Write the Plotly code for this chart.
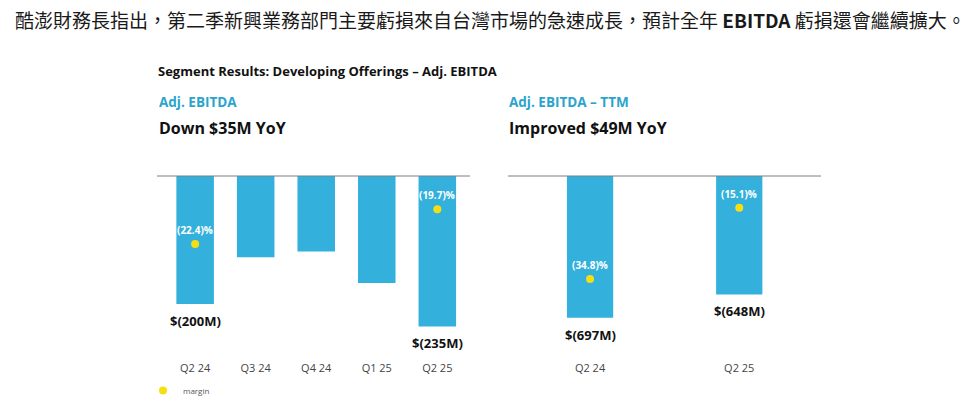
import plotly.graph_objects as go

# ---- data ----
quarters = ["Q2 24", "Q3 24", "Q4 24", "Q1 25", "Q2 25"]
ebitda = [-200, -127, -118, -167, -235]
ebitda_labels = ["$(200M)", "", "", "", "$(235M)"]
margin_q = ["Q2 24", "Q2 25"]
margin_vals = [-22.4, -19.7]
margin_labels = ["(22.4)%", "(19.7)%"]

ttm_periods = ["Q2 24", "Q2 25"]
ttm_ebitda = [-697, -648]
ttm_labels = ["$(697M)", "$(648M)"]
ttm_margin = [-34.8, -15.1]
ttm_margin_labels = ["(34.8)%", "(15.1)%"]

W, H = 980, 411
BAR = "#33b1dc"
DOT = "#f5df12"
TEAL = "#2aa4cc"
FONT = "Open Sans, Noto Sans, sans-serif"

def px(xp):
    return xp / W

def py(yp):
    return 1 - yp / H

top, bot = 176, 360

fig = go.Figure()

fig.add_trace(go.Bar(x=quarters, y=ebitda, marker_color=BAR, marker_line_width=0,
                     xaxis="x", yaxis="y", showlegend=False, hoverinfo="skip"))
fig.add_trace(go.Scatter(x=margin_q, y=margin_vals, mode="markers", name="margin",
                         marker=dict(color=DOT, size=8), xaxis="x", yaxis="y2",
                         showlegend=True, hoverinfo="skip"))
fig.add_trace(go.Bar(x=ttm_periods, y=ttm_ebitda, marker_color=BAR, marker_line_width=0,
                     xaxis="x3", yaxis="y3", showlegend=False, hoverinfo="skip", width=0.31))
fig.add_trace(go.Scatter(x=ttm_periods, y=ttm_margin, mode="markers", name="margin",
                         marker=dict(color=DOT, size=8), xaxis="x3", yaxis="y4",
                         showlegend=False, hoverinfo="skip"))

tickfont = dict(family=FONT, size=11, color="#444")
fig.update_layout(
    width=W, height=H, margin=dict(l=0, r=0, t=0, b=0),
    paper_bgcolor="white", plot_bgcolor="white",
    bargap=0.38,
    xaxis=dict(domain=[px(157), px(470)], range=[-0.63, 4.54], type="category",
               categoryorder="array", categoryarray=quarters,
               showgrid=False, zeroline=False, showline=False, ticks="", tickfont=tickfont),
    yaxis=dict(domain=[py(bot), py(top)], range=[-(bot - top) / 0.64, 0],
               visible=False, showgrid=False, zeroline=False),
    yaxis2=dict(overlaying="y", range=[-(bot + 43.9) / 12.85, -(top + 43.9) / 12.85],
                visible=False, showgrid=False, zeroline=False),
    xaxis3=dict(domain=[px(508), px(821)], range=[-0.55, 1.548], type="category",
                categoryorder="array", categoryarray=ttm_periods,
                showgrid=False, zeroline=False, showline=False, ticks="", tickfont=tickfont,
                anchor="y3"),
    yaxis3=dict(domain=[py(bot), py(top)], range=[-(399 + (bot - top) / 0.4755), -399],
                visible=False, showgrid=False, zeroline=False, anchor="x3"),
    yaxis4=dict(overlaying="y3", range=[-(bot - 153) / 3.62, -(top - 153) / 3.62],
                visible=False, showgrid=False, zeroline=False, anchor="x3"),
    legend=dict(x=px(143), y=py(376), xanchor="left", yanchor="top",
                font=dict(family=FONT, size=8, color="#555"), bgcolor="rgba(0,0,0,0)",
                itemwidth=30, tracegroupgap=0),
)

# baselines
fig.add_shape(type="line", xref="paper", yref="paper", x0=px(157), x1=px(470),
              y0=py(top), y1=py(top), line=dict(color="#7f7f7f", width=1))
fig.add_shape(type="line", xref="paper", yref="paper", x0=px(508), x1=px(821),
              y0=py(top), y1=py(top), line=dict(color="#7f7f7f", width=1))

# value labels
for q, v, t in zip(quarters, ebitda, ebitda_labels):
    if t:
        fig.add_annotation(x=q, y=v, xref="x", yref="y", text=f"<b>{t}</b>", showarrow=False,
                           yanchor="top", yshift=-6, font=dict(family=FONT, size=13, color="#111"))
for q, v, t in zip(ttm_periods, ttm_ebitda, ttm_labels):
    fig.add_annotation(x=q, y=v, xref="x3", yref="y3", text=f"<b>{t}</b>", showarrow=False,
                       yanchor="top", yshift=-6, font=dict(family=FONT, size=13, color="#111"))
for q, v, t in zip(margin_q, margin_vals, margin_labels):
    fig.add_annotation(x=q, y=v, xref="x", yref="y2", text=f"<b>{t}</b>", showarrow=False,
                       yanchor="middle", yshift=14, font=dict(family=FONT, size=10, color="white"))
for q, v, t in zip(ttm_periods, ttm_margin, ttm_margin_labels):
    fig.add_annotation(x=q, y=v, xref="x3", yref="y4", text=f"<b>{t}</b>", showarrow=False,
                       yanchor="middle", yshift=14, font=dict(family=FONT, size=10, color="white"))

# headers
def txt(x, y, s, size, color, family=FONT, xanchor="left", weight=None):
    f = dict(family=family, size=size, color=color)
    if weight:
        f["weight"] = weight
    fig.add_annotation(x=px(x), y=py(y), xref="paper", yref="paper", text=s, showarrow=False,
                       xanchor=xanchor, yanchor="middle", font=f)

txt(490, 19, "酷澎財務長指出，第二季新興業務部門主要虧損來自台灣市場的急速成長，預計全年 <b>EBITDA</b> 虧損還會繼續擴大。",
    19, "#1a1a1a", family="Noto Sans CJK TC", xanchor="center")
txt(156, 71, "<b>Segment Results: Developing Offerings – Adj. EBITDA</b>", 13, "#111")
txt(157, 102, "<b>Adj. EBITDA</b>", 13.5, TEAL)
txt(157, 128, "<b>Down $35M YoY</b>", 16, "#111")
txt(507, 102, "<b>Adj. EBITDA – TTM</b>", 13.5, TEAL)
txt(507, 128, "<b>Improved $49M YoY</b>", 16, "#111")

fig.write_html("out.html", config={"displayModeBar": False},
               post_script="document.body.style.margin='0';document.body.style.padding='0';")
